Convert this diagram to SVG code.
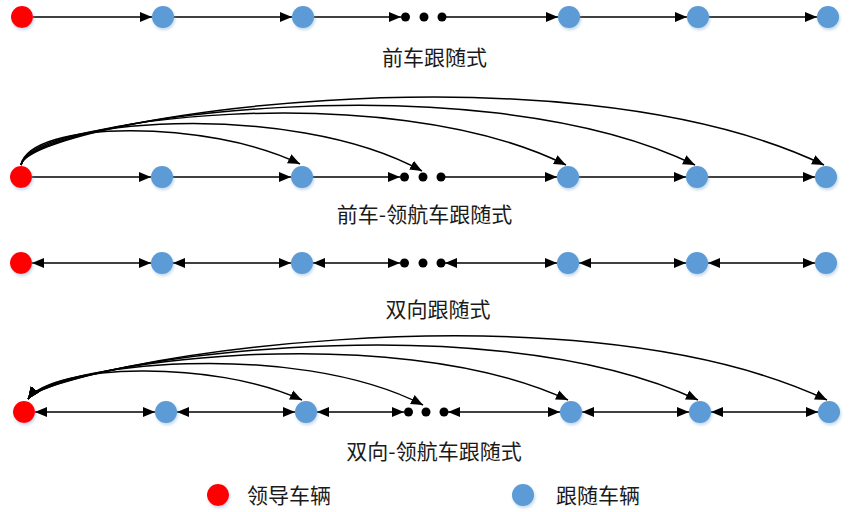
<svg xmlns="http://www.w3.org/2000/svg" width="860" height="512" viewBox="0 0 860 512">
<style>
.lead{fill:#FF0000;filter:url(#sh)}
.fol{fill:#5B9BD5;filter:url(#sh)}
.dot{fill:#000}
.ln{stroke:#000;stroke-width:1.5;fill:none}
.one{marker-end:url(#ah)}
.two{marker-start:url(#ah);marker-end:url(#ah)}
.lbl{font-family:"Noto Sans CJK SC","Noto Sans CJK JP",sans-serif;font-size:21px;fill:#1a1a1a}
</style>
<defs>
<marker id="ah" markerUnits="userSpaceOnUse" markerWidth="13" markerHeight="11" refX="12" refY="5" orient="auto-start-reverse" viewBox="0 0 13 10">
<path d="M0,0 L12,5 L0,10 z" fill="#000"/>
</marker>
<filter id="sh" x="-50%" y="-50%" width="200%" height="200%">
<feDropShadow dx="1" dy="2" stdDeviation="1.5" flood-color="#7fa6d0" flood-opacity="0.45"/>
</filter>
</defs>

<g id="connectors">
<!-- row 1 -->
<line class="ln one" x1="33" y1="17" x2="152" y2="17"/>
<line class="ln one" x1="174" y1="17" x2="292" y2="17"/>
<line class="ln one" x1="314" y1="17" x2="401" y2="17"/>
<line class="ln one" x1="446" y1="17" x2="558" y2="17"/>
<line class="ln one" x1="580" y1="17" x2="687" y2="17"/>
<line class="ln one" x1="709" y1="17" x2="817" y2="17"/>
<!-- row 2 -->
<line class="ln one" x1="32" y1="177" x2="151" y2="177"/>
<line class="ln one" x1="173" y1="177" x2="291" y2="177"/>
<line class="ln one" x1="313" y1="177" x2="400" y2="177"/>
<line class="ln one" x1="445" y1="177" x2="557" y2="177"/>
<line class="ln one" x1="579" y1="177" x2="686" y2="177"/>
<line class="ln one" x1="708" y1="177" x2="815" y2="177"/>
<path class="ln one" d="M21,165 C30,120 208,119 300,164"/>
<path class="ln one" d="M21,165 C30,120 290,98 422,171"/>
<path class="ln one" d="M21,165 C30,120 386,75 566,165"/>
<path class="ln one" d="M21,165 C30,120 473,57 695,165"/>
<path class="ln one" d="M21,165 C30,120 559,38 824,165"/>
<!-- row 3 -->
<line class="ln two" x1="32" y1="263" x2="151" y2="263"/>
<line class="ln two" x1="173" y1="263" x2="291" y2="263"/>
<line class="ln two" x1="313" y1="263" x2="400" y2="263"/>
<line class="ln two" x1="445" y1="263" x2="557" y2="263"/>
<line class="ln two" x1="579" y1="263" x2="686" y2="263"/>
<line class="ln two" x1="708" y1="263" x2="815" y2="263"/>
<!-- row 4 -->
<line class="ln two" x1="35" y1="412" x2="155" y2="412"/>
<line class="ln two" x1="177" y1="412" x2="295" y2="412"/>
<line class="ln two" x1="317" y1="412" x2="404" y2="412"/>
<line class="ln two" x1="448" y1="412" x2="560" y2="412"/>
<line class="ln two" x1="582" y1="412" x2="689" y2="412"/>
<line class="ln two" x1="711" y1="412" x2="818" y2="412"/>
<path class="ln two" d="M28,399 C53,364 212,359 302,400"/>
<path class="ln two" d="M28,399 C53,364 293,338 423,405"/>
<path class="ln two" d="M28,399 C53,364 390,317 568,400"/>
<path class="ln two" d="M28,399 C53,364 477,297 698,400"/>
<path class="ln two" d="M28,399 C53,364 563,276 827,400"/>
</g>

<g id="row1">
<circle class="lead" cx="22" cy="17" r="11"/>
<circle class="fol" cx="163" cy="17" r="11"/>
<circle class="fol" cx="303" cy="17" r="11"/>
<circle class="dot" cx="405.5" cy="17" r="4.5"/>
<circle class="dot" cx="424" cy="17" r="4.5"/>
<circle class="dot" cx="442" cy="17" r="4.5"/>
<circle class="fol" cx="569" cy="17" r="11"/>
<circle class="fol" cx="698" cy="17" r="11"/>
<circle class="fol" cx="828" cy="17" r="11"/>
<text class="lbl" x="434.5" y="65" text-anchor="middle">前车跟随式</text>
</g>

<g id="row2">
<circle class="lead" cx="21" cy="177" r="11"/>
<circle class="fol" cx="162" cy="177" r="11"/>
<circle class="fol" cx="302" cy="177" r="11"/>
<circle class="dot" cx="404.5" cy="177" r="4.5"/>
<circle class="dot" cx="423" cy="177" r="4.5"/>
<circle class="dot" cx="441" cy="177" r="4.5"/>
<circle class="fol" cx="568" cy="177" r="11"/>
<circle class="fol" cx="697" cy="177" r="11"/>
<circle class="fol" cx="826" cy="177" r="11"/>
<text class="lbl" x="424.5" y="222" text-anchor="middle">前车-领航车跟随式</text>
</g>

<g id="row3">
<circle class="lead" cx="21" cy="263" r="11"/>
<circle class="fol" cx="162" cy="263" r="11"/>
<circle class="fol" cx="302" cy="263" r="11"/>
<circle class="dot" cx="404.5" cy="263" r="4.5"/>
<circle class="dot" cx="423" cy="263" r="4.5"/>
<circle class="dot" cx="441" cy="263" r="4.5"/>
<circle class="fol" cx="568" cy="263" r="11"/>
<circle class="fol" cx="697" cy="263" r="11"/>
<circle class="fol" cx="826" cy="263" r="11"/>
<text class="lbl" x="438" y="317" text-anchor="middle">双向跟随式</text>
</g>

<g id="row4">
<circle class="lead" cx="24" cy="412" r="11"/>
<circle class="fol" cx="166" cy="412" r="11"/>
<circle class="fol" cx="306" cy="412" r="11"/>
<circle class="dot" cx="408.5" cy="412" r="4.5"/>
<circle class="dot" cx="426" cy="412" r="4.5"/>
<circle class="dot" cx="444" cy="412" r="4.5"/>
<circle class="fol" cx="571" cy="412" r="11"/>
<circle class="fol" cx="700" cy="412" r="11"/>
<circle class="fol" cx="829" cy="412" r="11"/>
<text class="lbl" x="434" y="459" text-anchor="middle">双向-领航车跟随式</text>
</g>

<g id="legend">
<circle class="lead" cx="218" cy="495" r="11"/>
<text class="lbl" x="247" y="503">领导车辆</text>
<circle class="fol" cx="523" cy="495" r="11"/>
<text class="lbl" x="556" y="503">跟随车辆</text>
</g>
</svg>
